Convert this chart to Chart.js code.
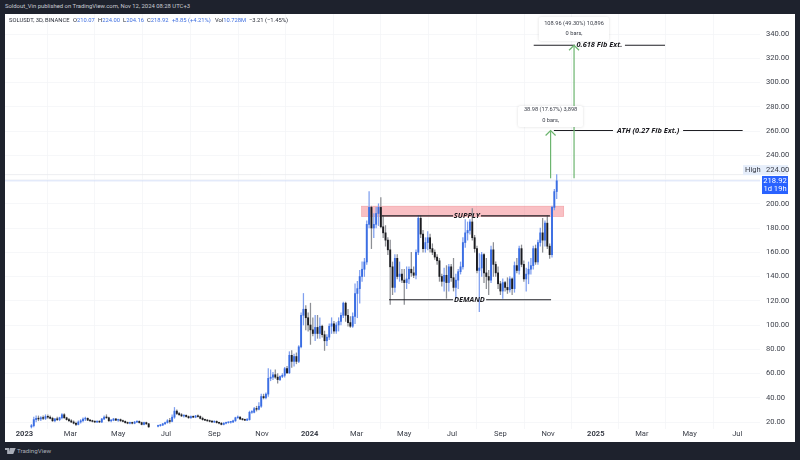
<!DOCTYPE html>
<html><head><meta charset="utf-8">
<script src="https://cdn.jsdelivr.net/npm/chart.js@4"></script>
<style>
html,body{margin:0;padding:0;background:#1e222d;width:800px;height:460px;overflow:hidden;font-family:Roboto,"Open Sans",sans-serif}
#panel{position:absolute;left:5px;top:14px;width:790px;height:428px;background:#fff}
canvas{position:absolute;left:0;top:0}
.t{position:absolute;white-space:nowrap;line-height:1}
#head{left:5px;top:4px;font-size:5.9px;color:#c9ccd3}
#foot{left:17px;top:448px;font-size:6.2px;color:#a9adb7}
.l{top:18px;font-size:5.8px;color:#2a2e39}
.b{color:#3f6fe0}
</style></head><body>
<div class="t" id="head">Soldout_Vin published on TradingView.com, Nov 12, 2024 08:28 UTC+3</div>
<div id="panel"><canvas id="c" width="790" height="428"></canvas></div>
<div class="t l" style="left:9px">SOLUSDT, 3D, BINANCE</div>
<div class="t l" style="left:73px">O<span class="b">210.07</span></div>
<div class="t l" style="left:98px">H<span class="b">224.00</span></div>
<div class="t l" style="left:123px">L<span class="b">204.16</span></div>
<div class="t l" style="left:147px">C<span class="b">218.92</span></div>
<div class="t l b" style="left:172px">+8.85 (+4.21%)</div>
<div class="t l" style="left:215px">Vol<span class="b">10.728M</span></div>
<div class="t l" style="left:249px">&minus;3.21 (&minus;1.45%)</div>
<svg style="position:absolute;left:5px;top:447px" width="11" height="8" viewBox="0 0 36 24"><path fill="#a9adb7" d="M0 2h14v20H7V9H0zM17 2h8l-6 20h-7zM25 2h10l-8 20h-9z"/><circle cx="20" cy="6" r="4" fill="#a9adb7"/></svg>
<div class="t" id="foot">TradingView</div>
<script>
const opens=[
null,null,null,16,17,22,23,22.5,23.5,23,
24.5,24,23,21,22.5,22,23.5,26,23.5,22,
21,20,19,18,20,21,22.5,23,21.5,21,
20.5,20,20.5,20,22.5,24,23.5,21,21.5,22.5,
21.5,22,21,20.5,19.5,19,19.5,19,20,20.5,
19.5,18,19.5,18.5,null,null,null,16.5,17,17.5,
18.5,19.5,21,20.5,24,29,27,26,25,25.5,
24.5,23.5,24.5,24,25,24.5,23,22,21.5,21,
20.5,20,20.5,19.5,19,18,19,19.5,19.8,20,
21,23.5,24,22.5,22,21.5,22,28,28,31,
30.5,33,41,40,43,56,57,59,57,55,
57.5,58.5,64,60.5,75,70,74,70,82,108,
113,106,100,96,93,98,93,99,92,87,
90,99,101,95,100,103,108,118,108,102,
99,107,126,130,140,146,152,183,197,180,
183,192,197,181,176,170,162,148,131,155,
140,142,137,135,138,146,143,141,160,188,
175,163,168,172,163,160,156,153,140,136,
141,135,148,139,131,137,144,148,168,176,
178,185,172,163,145,147,158,143,140,137,
162,150,143,134,128,135,131,129,138,130,
149,145,163,150,138,142,146,149,163,152,
168,176,170,184,165,158,197,210.07];
const highs=[
null,null,null,18,24,25,25,24.5,25,26,
26,25,24,23,24,24,27,27,24,23,
22,21,20,21,22,23.5,24,23.5,22,21.5,
21,21,21,23,25,26,24,22,23,23,
22.5,22.5,21.5,21,20,20,20,20.5,21,21,
20,20,20,19,null,null,null,17.5,18,19,
20,22,23,26,32,30,28,27,26,26,
25,25,25,25.5,26,25,24,22.5,22,21.5,
21,21,21,20,19.5,19.5,20,20,20.5,21.5,
24,25,24.5,23,22.5,23,29,29.5,32,33,
36,43,43,44,64,63,61,63,60,58,
60,65,66,78,79,76,77,83,110,126,
116,110,118,106,108,108,106,100,95,92,
101,106,103,102,106,110,119,119,113,107,
110,134,136,145,152,155,186,210,198,192,
197,200,205,190,182,172,170,152,158,158,
152,146,146,148,148,160,148,162,190,190,
178,172,177,175,167,162,158,155,142,147,
149,150,150,155,142,146,152,172,187,185,
187,196,174,165,159,160,159,155,145,165,
168,152,148,136,138,136,139,140,139,152,
155,165,166,153,147,152,155,165,166,170,
180,188,186,190,167,198,212,224];
const lows=[
null,null,null,15,16,20,21,21,22,22,
23,22.5,20.5,20,21,21,22.5,23,21.5,20.5,
19.5,18.5,17,17.5,19,20,21,21,20.5,20,
19.5,19.5,19.5,19.5,22,23,20.5,20,21,21,
20.5,20.5,20,19,18.5,18.5,18.5,18.5,19.5,19,
17.5,17.5,18,15.5,null,null,null,16,16.5,17,
18,19,19,20,23,26,25.5,24.5,24,24,
23,23,23.5,23.5,24,22.5,21.5,21,20.5,20,
19.5,19.5,19,18.5,17.5,17.5,18.5,19,19,19.5,
20.5,23,22,21.5,21,21,21.5,27,27.5,29,
30,32,39,39,41,54,55,56,52,54,
56.5,57,60,60,65,66,68,69,81,100,
96,95,84,91,87,89,89,90,79,83,
88,93,93,93,95,100,106,103,99,98,
98,101,106,118,136,140,150,180,163,172,
180,182,180,172,165,158,117,125,127,138,
136,135,117,130,134,140,139,138,158,172,
160,160,162,160,158,154,150,136,132,128,
122,128,136,128,122,130,142,146,164,170,
175,170,160,143,111,140,135,130,125,135,
140,140,130,125,122,128,126,127,125,127,
143,142,148,136,128,134,142,146,150,150,
165,160,165,163,155,156,195,204.16];
const closes=[
null,null,null,17,22,23,22.5,23.5,23,24.5,
24,23,21,22.5,22,23.5,26,23.5,22,21,
20,19,18,20,21,22.5,23,21.5,21,20.5,
20,20.5,20,22.5,24,23.5,21,21.5,22.5,21.5,
22,21,20.5,19.5,19,19.5,19,20,20.5,19.5,
18,19.5,18.5,16,null,null,null,17,17.5,18.5,
19.5,21,20.5,24,29,27,26,25,25.5,24.5,
23.5,24.5,24,25,24.5,23,22,21.5,21,20.5,
20,20.5,19.5,19,18,19,19.5,19.8,20,21,
23.5,24,22.5,22,21.5,22,28,28,31,30.5,
33,41,40,43,56,57,59,57,55,57.5,
58.5,64,60.5,75,70,74,70,82,108,113,
106,100,96,93,98,93,99,92,87,90,
99,101,95,100,103,108,118,108,102,99,
107,126,130,140,146,152,183,197,180,183,
192,197,181,176,170,162,148,131,155,140,
142,137,135,138,146,143,141,160,188,175,
163,168,172,163,160,156,153,140,136,141,
135,148,139,131,137,144,148,168,176,178,
185,172,163,145,147,158,143,140,137,162,
150,143,134,128,135,131,129,138,130,149,
145,163,150,138,142,146,149,163,152,168,
176,170,184,165,158,197,210,218.92];

const priceTicks=[20,40,60,80,100,120,140,160,180,200,240,260,280,300,320,340];
const allGrid=[20,40,60,80,100,120,140,160,180,200,220,240,260,280,300,320,340];
const dateTicks=[0,19.67,40,60.33,81,101.33,121.67,141.67,162,182.33,203,223.33,243.67,263.33,283.67,304];
const dateLabels=['2023','Mar','May','Jul','Sep','Nov','2024','Mar','May','Jul','Sep','Nov','2025','Mar','May','Jul'];
const lastClose=218.92, periodHigh=224;
const zoneSupply=[143.8,230,189.5,198];
const hLines=[
 {y:190,segs:[[152.4,182.8],[194.7,224.1]],text:'SUPPLY',at:188.7},
 {y:120.8,segs:[[155.5,182.8],[196.9,224.6]],text:'DEMAND',at:189.8},
 {y:260.4,segs:[[225.8,251],[280.9,306.3]],text:'ATH (0.27 Fib Ext.)',at:266},
 {y:330.7,segs:[[217.2,234.8],[256.1,273.2]],text:'0.618 Fib Ext.',at:245.2}
];
const arrows=[{bar:224.4,from:221,to:260.4},{bar:234.4,from:221,to:330.7}];
const notes=[
 {x0:219.4,x1:249.3,y0:354,y1:334.2,c:234.4,a:'108.96 (49.30%) 10,896',ya:348.2,b:'0 bars,',yb:340},
 {x0:210.5,x1:238.2,y0:280.6,y1:263.3,c:224.4,a:'38.98 (17.67%) 3,898',ya:277.7,b:'0 bars,',yb:269}
];

const idx=closes.map((_,i)=>i);
const isUp=i=>closes[i]>=opens[i];
const wicks=idx.map(i=>highs[i]==null?{x:i,y:null}:{x:i,y:[lows[i],highs[i]]});
const bodies=idx.map(i=>opens[i]==null?{x:i,y:null}:{x:i,y:[Math.min(opens[i],closes[i]),Math.max(opens[i],closes[i])]});

const overlay={id:'overlay',
 beforeDatasetsDraw(ch){
  const {ctx,scales:{x,y},chartArea:a}=ch;
  ctx.save();
  ctx.fillStyle='rgba(240,90,100,0.38)';ctx.strokeStyle='rgba(235,120,125,0.6)';ctx.lineWidth=0.6;
  const zx=x.getPixelForValue(zoneSupply[0]),zw=x.getPixelForValue(zoneSupply[1])-zx,zy=y.getPixelForValue(zoneSupply[3]),zh=y.getPixelForValue(zoneSupply[2])-zy;
  ctx.fillRect(zx,zy,zw,zh);ctx.strokeRect(zx,zy,zw,zh);
  ctx.lineWidth=0.8;
  ctx.strokeStyle='#e8eaee';line(ctx,a.left,y.getPixelForValue(periodHigh),a.right,y.getPixelForValue(periodHigh));
  ctx.strokeStyle='#ccd8f6';line(ctx,a.left,y.getPixelForValue(lastClose),a.right,y.getPixelForValue(lastClose));
  ctx.restore();
 },
 afterDatasetsDraw(ch){
  const {ctx,scales:{x,y},chartArea:a}=ch;
  ctx.save();
  ctx.textBaseline='middle';ctx.textAlign='center';
  hLines.forEach(h=>{
   const py=y.getPixelForValue(h.y);
   ctx.strokeStyle='#1f1f24';ctx.lineWidth=1.1;
   h.segs.forEach(s=>line(ctx,x.getPixelForValue(s[0]),py,x.getPixelForValue(s[1]),py));
   ctx.fillStyle='#1a1a1f';ctx.font='italic bold 7.4px "Open Sans",Roboto,sans-serif';
   ctx.fillText(h.text,x.getPixelForValue(h.at),py);
  });
  ctx.strokeStyle='#6cb56f';ctx.lineWidth=1.2;
  arrows.forEach(r=>{
   const px=x.getPixelForValue(r.bar),p0=y.getPixelForValue(r.from),p1=y.getPixelForValue(r.to);
   line(ctx,px,p0,px,p1);
   ctx.beginPath();ctx.moveTo(px-5,p1+5);ctx.lineTo(px,p1);ctx.lineTo(px+5,p1+5);ctx.stroke();
  });
  notes.forEach(n=>{
   const bx=x.getPixelForValue(n.x0),bw=x.getPixelForValue(n.x1)-bx,by=y.getPixelForValue(n.y0),bh=y.getPixelForValue(n.y1)-by;
   ctx.save();ctx.shadowColor='rgba(0,0,0,0.14)';ctx.shadowBlur=3;ctx.fillStyle='#fff';
   ctx.beginPath();ctx.roundRect(bx,by,bw,bh,2);ctx.fill();ctx.restore();
   ctx.fillStyle='#3a3e48';ctx.font='5.7px Roboto,sans-serif';
   const cx=x.getPixelForValue(n.c);
   ctx.fillText(n.a,cx,y.getPixelForValue(n.ya));
   ctx.fillText(n.b,cx,y.getPixelForValue(n.yb));
  });
  const ph=y.getPixelForValue(periodHigh),pc=y.getPixelForValue(lastClose);
  ctx.fillStyle='#e6eefb';ctx.fillRect(a.right-17,ph-9.5,45,10);
  ctx.fillStyle='#3a3e48';ctx.font='7.6px Roboto,sans-serif';ctx.textAlign='left';
  ctx.fillText('High',a.right-15,ph-4.5);
  ctx.fillText(periodHigh.toFixed(2),a.right+6,ph-4.5);
  ctx.fillStyle='#2962ff';ctx.fillRect(a.right+2,pc-4.8,26,18);
  ctx.fillStyle='#fff';ctx.textAlign='center';
  ctx.fillText(lastClose.toFixed(2),a.right+15,pc);
  ctx.fillText('1d 19h',a.right+15,pc+8.5);
  ctx.restore();
 }};
function line(ctx,a,b,c,d){ctx.beginPath();ctx.moveTo(a,b);ctx.lineTo(c,d);ctx.stroke();}

new Chart(document.getElementById('c'),{
 type:'bar',
 data:{datasets:[
  {data:wicks,grouped:false,order:2,barThickness:0.6,backgroundColor:idx.map(i=>isUp(i)?'#7f9fef':'#8d8f94')},
  {data:bodies,grouped:false,order:1,barThickness:1.25,backgroundColor:idx.map(i=>isUp(i)?'#3b6ee3':'#1b1c20'),minBarLength:0.8}
 ]},
 options:{responsive:false,animation:false,devicePixelRatio:1,
  layout:{padding:0},
  plugins:{legend:{display:false},title:{display:false},tooltip:{enabled:false}},
  scales:{
   x:{type:'linear',min:-8.27,max:313.7,offset:false,
    afterBuildTicks(s){s.ticks=dateTicks.map(v=>({value:v}));},
    afterFit(s){s.height=13;s.paddingLeft=0;s.paddingRight=0;},
    grid:{color:'#f4f5f7',lineWidth:0.8,drawTicks:false},border:{display:false},
    ticks:{autoSkip:false,maxRotation:0,padding:1,color:'#3a3e48',
     font:c=>({family:'Roboto,sans-serif',size:7.6,weight:/^\d/.test(dateLabels[c.index]||'')?'bold':'normal'}),
     callback:(v,i)=>dateLabels[i]}},
   y:{type:'linear',position:'right',min:14.23,max:356.5,
    afterBuildTicks(s){s.ticks=allGrid.map(v=>({value:v}));},
    afterFit(s){s.width=35;s.paddingTop=0;s.paddingBottom=0;},
    grid:{color:'#f4f5f7',lineWidth:0.8,drawTicks:false},border:{display:false},
    ticks:{padding:6,color:'#3a3e48',autoSkip:false,font:{family:'Roboto,sans-serif',size:7.6},
     callback:v=>priceTicks.includes(v)?v.toFixed(2):''}}
  }},
 plugins:[overlay]
});
</script>
</body></html>
